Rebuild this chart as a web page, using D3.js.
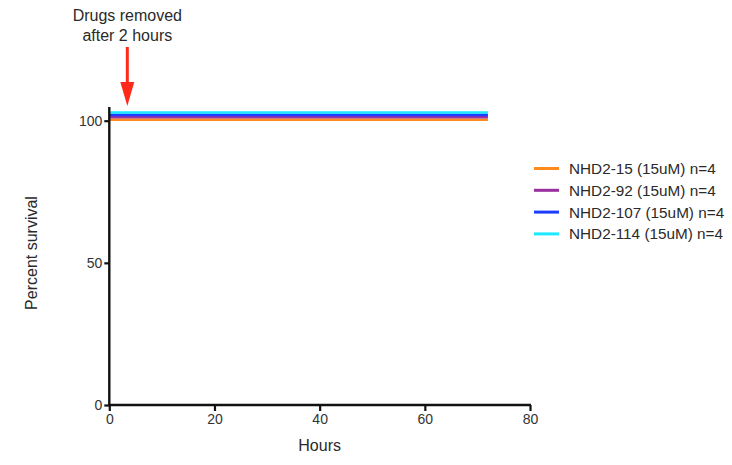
<!DOCTYPE html>
<html>
<head>
<meta charset="utf-8">
<script src="https://cdn.jsdelivr.net/npm/d3@7/dist/d3.min.js"></script>
<style>
  html, body { margin: 0; padding: 0; background: #fff; }
  svg { display: block; font-family: "Liberation Sans", Arial, Helvetica, sans-serif; }
</style>
</head>
<body>
<svg id="chart" width="732" height="465"></svg>
<script>
// Survival curves: hours vs percent survival
const seriesNames = ["NHD2-15 (15uM) n=4", "NHD2-92 (15uM) n=4", "NHD2-107 (15uM) n=4", "NHD2-114 (15uM) n=4"];
const seriesColors = ["#ff8a1c", "#9a2fa0", "#1c3cff", "#1ce8ff"];
const hours = [0, 72];
const survival15 = [100, 100];
const survival92 = [100, 100];
const survival107 = [100, 100];
const survival114 = [100, 100];
const xTicks = [0, 20, 40, 60, 80];
const yTicks = [0, 50, 100];
const drugRemovalHour = 2;

const allSurvival = [survival15, survival92, survival107, survival114];
// vertical stagger (px) so overlapping curves stay visible
const stagger = [-1, -3.4, -5.8, -8.2];

const svg = d3.select("#chart");
const x = d3.scaleLinear().domain([0, 80]).range([109.3, 530]);
const y = d3.scaleLinear().domain([0, 100]).range([405, 120.7]);
const yTop = 104.8;

const axisColor = "#111";
const textColor = "#2a2a2a";

// curves
const line = d3.line().x(d => x(d[0])).y(d => y(d[1]));
allSurvival.forEach((vals, i) => {
  const pts = hours.map((h, j) => [h, vals[j]]);
  svg.append("path")
    .attr("d", line(pts))
    .attr("transform", `translate(0,${stagger[i]})`)
    .attr("fill", "none")
    .attr("stroke", seriesColors[i])
    .attr("stroke-width", 2.6);
});

// y axis
const yAxis = svg.append("g").attr("transform", `translate(${x(0)},0)`)
  .call(d3.axisLeft(y).tickValues(yTicks).tickSize(5).tickPadding(2).tickSizeOuter(0));
yAxis.select(".domain").remove();
yAxis.append("line").attr("x1", 0).attr("x2", 0).attr("y1", y(0) + 1).attr("y2", y(yTop))
  .attr("stroke", axisColor).attr("stroke-width", 2.4);

// x axis
const xAxis = svg.append("g").attr("transform", `translate(0,${y(0)})`)
  .call(d3.axisBottom(x).tickValues(xTicks).tickSize(6).tickPadding(3).tickSizeOuter(0));
xAxis.select(".domain").remove();
xAxis.append("line").attr("x1", x(0) - 1).attr("x2", x(80) + 1).attr("y1", 0).attr("y2", 0)
  .attr("stroke", axisColor).attr("stroke-width", 2.4);

[yAxis, xAxis].forEach(g => {
  g.selectAll(".tick line").attr("stroke", axisColor).attr("stroke-width", 2.2);
  g.selectAll(".tick text").attr("fill", "#333").style("font-size", "14px")
    .style("font-family", "'Liberation Sans', Arial, sans-serif");
});

// axis titles
svg.append("text").attr("x", x(40)).attr("y", 451).attr("text-anchor", "middle")
  .attr("fill", textColor).style("font-size", "16px").text("Hours");
svg.append("text").attr("transform", `translate(37,253) rotate(-90)`).attr("text-anchor", "middle")
  .attr("fill", textColor).style("font-size", "16px").text("Percent survival");

// annotation: drug removal arrow
const ax = x(drugRemovalHour) + 7.5;
svg.append("text").attr("x", ax).attr("y", 21).attr("text-anchor", "middle")
  .attr("fill", textColor).style("font-size", "16px").text("Drugs removed");
svg.append("text").attr("x", ax).attr("y", 41).attr("text-anchor", "middle")
  .attr("fill", textColor).style("font-size", "16px").text("after 2 hours");
svg.append("line").attr("x1", ax).attr("x2", ax).attr("y1", 47).attr("y2", 84)
  .attr("stroke", "#ff2a1a").attr("stroke-width", 3);
svg.append("path")
  .attr("d", `M${ax - 7},82 L${ax + 7},82 L${ax},106 Z`)
  .attr("fill", "#ff2a1a");

// legend
const legend = svg.append("g");
seriesNames.forEach((name, i) => {
  const ly = 168.5 + i * 21.8;
  legend.append("line").attr("x1", 534).attr("x2", 559).attr("y1", ly).attr("y2", ly)
    .attr("stroke", seriesColors[i]).attr("stroke-width", 3);
  legend.append("text").attr("x", 569).attr("y", ly + 5.5)
    .attr("fill", textColor).style("font-size", "15.3px").text(name);
});
</script>
</body>
</html>
